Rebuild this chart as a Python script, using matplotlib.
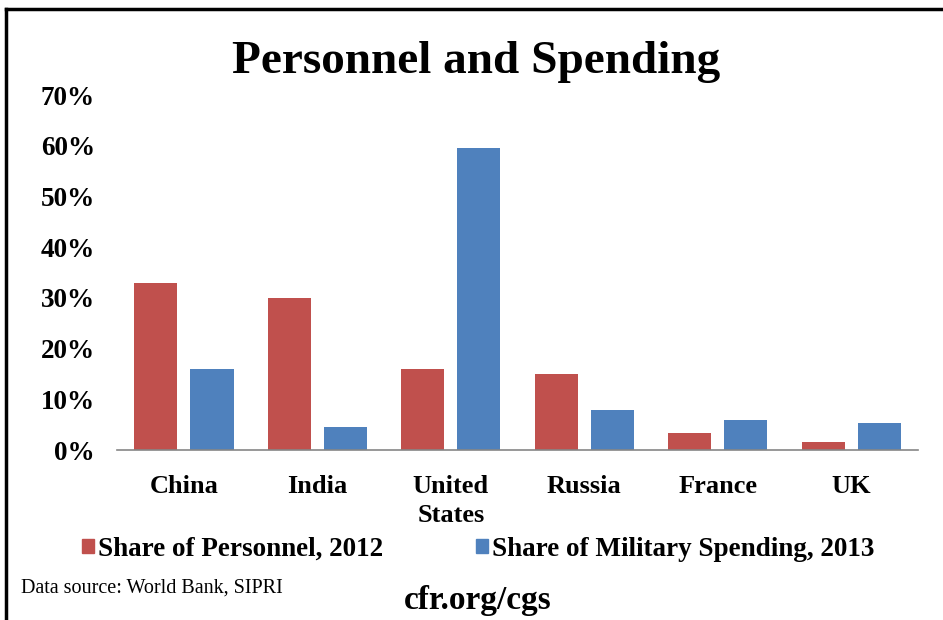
import numpy as np
import matplotlib
matplotlib.use("Agg")
import matplotlib.pyplot as plt
from matplotlib.patches import Patch
from matplotlib.ticker import PercentFormatter

countries = ["China", "India", "United\nStates", "Russia", "France", "UK"]
personnel_2012 = [32.9, 29.9, 16.0, 15.0, 3.3, 1.6]
spending_2013 = [16.0, 4.5, 59.5, 8.0, 5.9, 5.4]
y_ticks = [0, 10, 20, 30, 40, 50, 60, 70]

red = "#C0504D"
blue = "#4F81BD"
serif = "Liberation Serif"

fig = plt.figure(figsize=(9.43, 6.2), dpi=100)
ax = fig.add_axes([0.1241, 0.274, 0.8494, 0.5726])

x = np.arange(len(countries))
w = 0.325
ax.bar(x - 0.21, personnel_2012, w, color=red)
ax.bar(x + 0.21, spending_2013, w, color=blue)

ax.set_xlim(-0.5, len(countries) - 0.5)
ax.set_ylim(0, 70)
ax.set_yticks(y_ticks)
ax.yaxis.set_major_formatter(PercentFormatter(decimals=0))
ax.set_xticks(x)
ax.set_xticklabels(countries, fontfamily=serif, fontweight="bold", fontsize=19,
                   linespacing=1.35)
for lab in ax.get_yticklabels():
    lab.set_fontfamily(serif)
    lab.set_fontweight("bold")
    lab.set_fontsize(19.5)
ax.tick_params(axis="y", length=0, pad=16)
ax.tick_params(axis="x", length=0, pad=18)

for side in ["top", "right", "left"]:
    ax.spines[side].set_visible(False)
ax.spines["bottom"].set_color("#868686")
ax.spines["bottom"].set_linewidth(1.2)

fig.text(0.505, 0.9, "Personnel and Spending", ha="center", va="center",
         fontfamily=serif, fontweight="bold", fontsize=34)

handles = [Patch(color=red, label="Share of Personnel, 2012"),
           Patch(color=blue, label="Share of Military Spending, 2013")]
fig.legend(handles=handles, loc="center", bbox_to_anchor=(0.507, 0.114), ncol=2,
           frameon=False, handlelength=0.45, handleheight=0.45, handletextpad=0.15,
           columnspacing=3.4, prop={"family": serif, "weight": "bold", "size": 19.5})

fig.text(0.022, 0.052, "Data source: World Bank, SIPRI", ha="left", va="center",
         fontfamily=serif, fontsize=14.5)
fig.text(0.507, 0.032, "cfr.org/cgs", ha="center", va="center",
         fontfamily=serif, fontweight="bold", fontsize=24)

# frame around the picture (left and top edges)
fig.add_artist(plt.Line2D([0.006, 0.006], [0.0, 0.985], transform=fig.transFigure,
                          color="black", linewidth=2.5))
fig.add_artist(plt.Line2D([0.006, 1.0], [0.985, 0.985], transform=fig.transFigure,
                          color="black", linewidth=2.5))

fig.savefig("out.png", dpi=100)
